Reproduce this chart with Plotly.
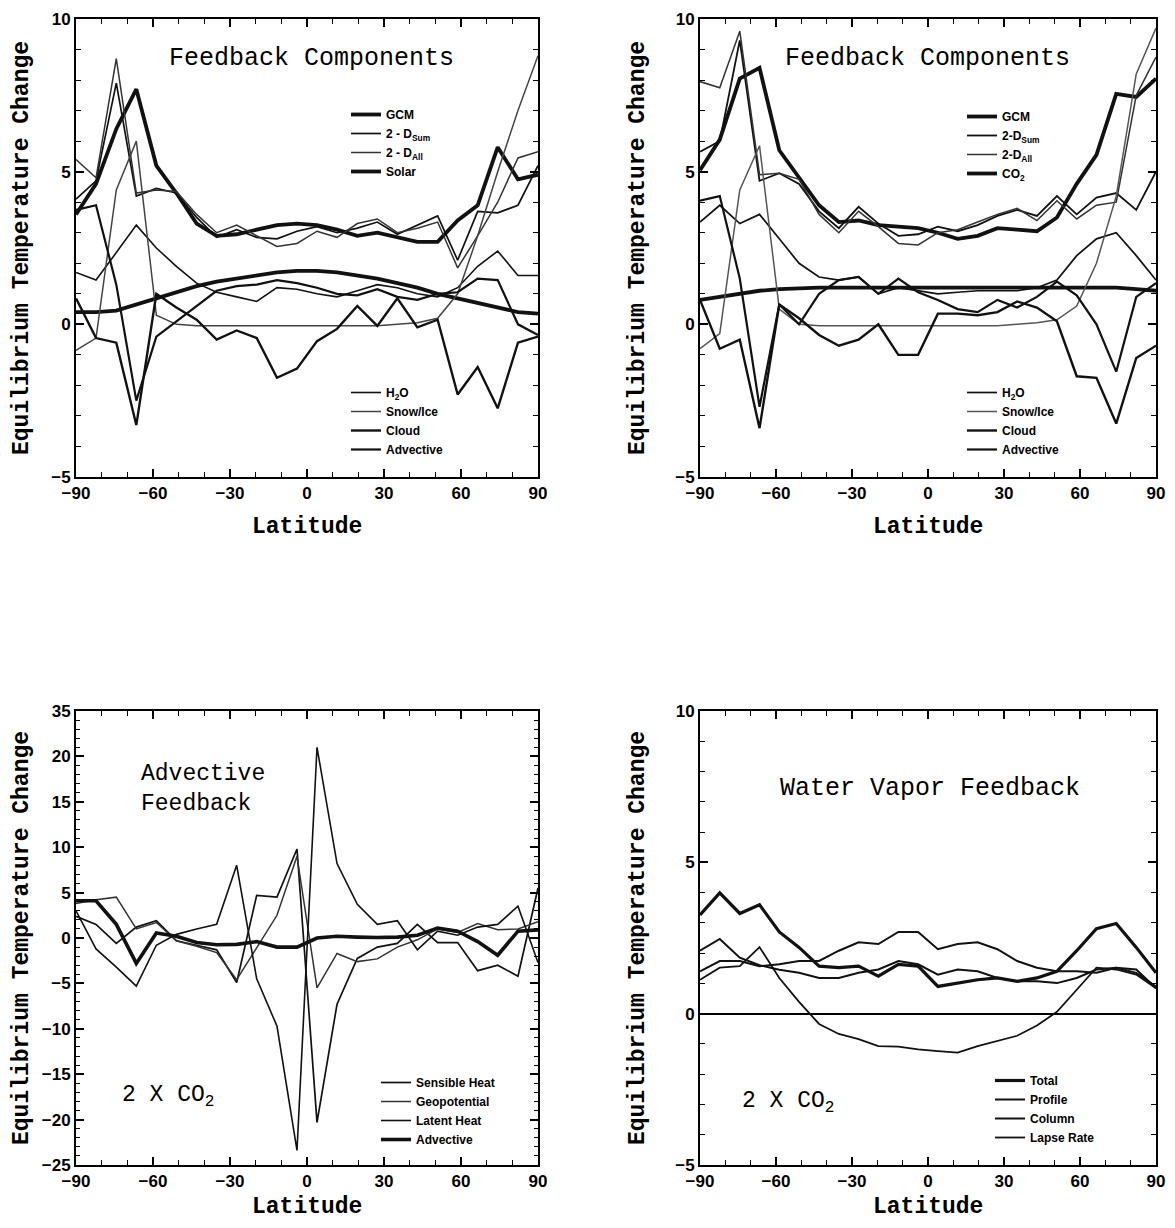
import plotly.graph_objects as go

PAGE_W, PAGE_H = 1175, 1228
OFF = 8  # page body margin of the browser
W, H = PAGE_W - 2 * OFF, PAGE_H - 2 * OFF

# ---------------- data ----------------
lat = [-90, -82.2, -74.3, -66.5, -58.7, -50.9, -43.0, -35.2, -27.4, -19.6, -11.7, -3.9,
       3.9, 11.7, 19.6, 27.4, 35.2, 43.0, 50.9, 58.7, 66.5, 74.3, 82.2, 90]

# Panel A: Feedback components, solar forcing
a_gcm = [3.6, 4.6, 6.4, 7.7, 5.2, 4.3, 3.3, 2.9, 2.95, 3.1, 3.25, 3.3, 3.25, 3.1, 2.9, 3.0, 2.85, 2.7, 2.7, 3.4, 3.9, 5.8, 4.75, 4.9]
a_sum = [4.1, 4.7, 7.9, 4.2, 4.45, 4.3, 3.5, 2.85, 3.1, 2.85, 2.8, 3.05, 3.2, 3.0, 3.15, 3.35, 2.95, 3.25, 3.55, 2.1, 3.7, 3.65, 3.9, 5.2]
a_all = [5.4, 4.8, 8.7, 4.3, 4.4, 4.35, 3.6, 3.0, 3.25, 2.9, 2.55, 2.65, 3.05, 2.85, 3.3, 3.45, 3.0, 3.15, 3.35, 1.85, 2.9, 4.0, 5.45, 5.65]
a_solar = [0.4, 0.4, 0.45, 0.65, 0.85, 1.05, 1.25, 1.4, 1.5, 1.6, 1.7, 1.75, 1.75, 1.7, 1.6, 1.5, 1.35, 1.2, 1.0, 0.85, 0.7, 0.55, 0.4, 0.35]
a_h2o = [1.7, 1.45, 2.35, 3.25, 2.5, 1.9, 1.35, 1.05, 0.9, 0.75, 1.2, 1.15, 1.0, 0.9, 1.1, 1.3, 1.2, 1.0, 0.9, 1.2, 1.9, 2.4, 1.6, 1.6]
a_snow = [-0.85, -0.45, 4.4, 6.0, 0.3, 0.0, -0.05, -0.05, -0.05, -0.05, -0.05, -0.05, -0.05, -0.05, -0.05, -0.05, 0.0, 0.05, 0.2, 1.0, 2.9, 5.0, 7.0, 8.8]
a_cloud = [0.85, -0.45, -0.6, -3.3, 1.0, 0.55, 0.15, -0.5, -0.2, -0.45, -1.75, -1.45, -0.55, -0.15, 0.6, -0.05, 0.85, -0.1, 0.15, -2.3, -1.4, -2.75, -0.6, -0.4]
a_adv = [3.75, 3.9, 1.3, -2.5, -0.4, 0.1, 0.6, 1.1, 1.25, 1.3, 1.45, 1.35, 1.2, 1.0, 0.95, 1.15, 0.9, 0.8, 1.0, 1.05, 1.5, 1.45, 0.0, -0.35]

# Panel B: Feedback components, CO2 forcing
b_gcm = [5.05, 6.05, 8.05, 8.4, 5.7, 4.8, 3.9, 3.35, 3.4, 3.25, 3.2, 3.15, 3.0, 2.8, 2.9, 3.15, 3.1, 3.05, 3.5, 4.6, 5.55, 7.55, 7.45, 8.05]
b_sum = [5.65, 6.0, 9.3, 4.7, 4.95, 4.6, 3.7, 3.15, 3.85, 3.3, 2.9, 2.95, 3.2, 3.05, 3.25, 3.55, 3.75, 3.55, 4.2, 3.6, 4.15, 4.3, 3.75, 5.0]
b_all = [7.95, 7.75, 9.6, 4.9, 4.95, 4.75, 3.6, 3.0, 3.7, 3.2, 2.65, 2.6, 3.0, 3.1, 3.35, 3.6, 3.8, 3.4, 4.05, 3.45, 3.9, 4.0, 7.5, 8.75]
b_co2 = [0.8, 0.9, 1.0, 1.1, 1.15, 1.18, 1.2, 1.2, 1.2, 1.2, 1.2, 1.2, 1.2, 1.2, 1.2, 1.2, 1.2, 1.2, 1.2, 1.2, 1.2, 1.2, 1.15, 1.1]
b_h2o = [3.35, 3.9, 3.3, 3.6, 2.8, 2.0, 1.55, 1.45, 1.55, 1.0, 1.2, 1.1, 1.0, 1.05, 1.1, 1.1, 1.1, 1.2, 1.45, 2.25, 2.8, 3.0, 2.25, 1.45]
b_snow = [-0.8, -0.3, 4.4, 5.85, 0.5, 0.0, -0.05, -0.05, -0.05, -0.05, -0.05, -0.05, -0.05, -0.05, -0.05, -0.05, 0.0, 0.05, 0.15, 0.6, 2.0, 4.2, 8.2, 9.7]
b_cloud = [0.8, -0.8, -0.5, -3.4, 0.65, 0.2, -0.35, -0.7, -0.5, 0.0, -1.0, -1.0, 0.35, 0.35, 0.3, 0.4, 0.75, 0.55, 0.1, -1.7, -1.75, -3.25, -1.1, -0.7]
b_adv = [4.05, 4.2, 1.5, -2.7, 0.65, 0.0, 1.0, 1.45, 1.55, 1.0, 1.5, 1.05, 0.8, 0.5, 0.4, 0.8, 0.55, 0.9, 1.4, 0.95, 0.0, -1.55, 0.9, 1.35]

# Panel C: Advective feedback components (2 x CO2)
c_sens = [2.4, 1.5, -0.6, 1.2, 1.9, -0.3, -0.8, -1.3, -4.9, 4.7, 4.5, 9.8, -20.3, -7.3, -2.25, -1.0, -0.6, 1.5, -0.5, -0.5, -3.6, -3.0, -4.2, 5.5]
c_geo = [3.8, 4.2, 4.5, 1.0, 1.7, -0.3, -0.9, -1.6, -4.6, -1.0, 2.5, 9.0, -5.5, -1.7, -2.6, -2.3, -1.0, -0.2, 1.0, 0.6, 1.6, 0.9, 1.0, 1.8]
c_latent = [3.0, -1.2, -3.2, -5.3, -0.8, 0.4, 1.0, 1.5, 8.0, -4.5, -9.7, -23.4, 21.0, 8.2, 3.7, 1.5, 1.9, -1.3, 0.75, 0.3, 1.2, 1.5, 3.5, -2.7]
c_adv = [4.1, 4.1, 1.5, -2.8, 0.55, 0.2, -0.5, -0.75, -0.7, -0.4, -1.0, -1.0, 0.0, 0.2, 0.1, 0.05, 0.1, 0.3, 1.1, 0.75, -0.4, -1.9, 0.75, 0.9]
c_yticks = [-25, -20, -15, -10, -5, 0, 5, 10, 15, 20, 25]
c_yticktext = ["\u221225", "\u221220", "\u221215", "\u221210", "\u22125", "0", "5", "10", "15", "20", "35"]

# Panel D: Water vapour feedback (2 x CO2)
d_total = [3.26, 3.99, 3.31, 3.6, 2.7, 2.19, 1.57, 1.52, 1.57, 1.24, 1.63, 1.57, 0.9, 1.01, 1.12, 1.18, 1.07, 1.18, 1.4, 2.08, 2.81, 2.98, 2.19, 1.35]
d_profile = [2.08, 2.47, 1.85, 1.6, 1.45, 1.35, 1.18, 1.18, 1.35, 1.46, 1.74, 1.63, 1.29, 1.46, 1.4, 1.18, 1.07, 1.07, 1.01, 1.18, 1.46, 1.52, 1.46, 0.84]
d_column = [1.4, 1.74, 1.74, 1.57, 1.63, 1.74, 1.74, 2.08, 2.36, 2.3, 2.7, 2.7, 2.13, 2.3, 2.36, 2.13, 1.74, 1.52, 1.4, 1.4, 1.35, 1.52, 1.35, 0.9]
d_lapse = [1.12, 1.52, 1.57, 2.2, 1.18, 0.39, -0.34, -0.67, -0.84, -1.07, -1.09, -1.18, -1.24, -1.29, -1.07, -0.9, -0.73, -0.39, 0.06, 0.79, 1.52, 1.46, 1.29, 0.84]

# ---------------- layout helpers ----------------
def fx(p):
    return (p - OFF) / W

def fy(p):
    return 1 - (p - OFF) / H

LEFT = (76, 538)
RIGHT = (700, 1156)
TOP = (19, 477)
BOTTOM = (711, 1165)

panels = {
    1: dict(x=LEFT, y=TOP),
    2: dict(x=RIGHT, y=TOP),
    3: dict(x=LEFT, y=BOTTOM),
    4: dict(x=RIGHT, y=BOTTOM),
}

BLACK = "#111111"
fig = go.Figure()


def add(xs, ys, name, panel, legend, width, color=BLACK, dash="solid"):
    sfx = "" if panel == 1 else str(panel)
    fig.add_trace(go.Scatter(
        x=xs, y=ys, name=name, mode="lines",
        line=dict(color=color, width=width, dash=dash),
        xaxis="x" + sfx, yaxis="y" + sfx, legend=legend,
        hoverinfo="skip"))


# Panel A
add(lat, a_gcm, "GCM", 1, "legend", 3.8)
add(lat, a_sum, "2 - D<sub>Sum</sub>", 1, "legend", 1.7)
add(lat, a_all, "2 - D<sub>All</sub>", 1, "legend", 1.5, color="#333333")
add(lat, a_solar, "Solar", 1, "legend", 3.8)
add(lat, a_h2o, "H<sub>2</sub>O", 1, "legend2", 1.6)
add(lat, a_snow, "Snow/Ice", 1, "legend2", 1.5, color="#444444")
add(lat, a_cloud, "Cloud", 1, "legend2", 2.4)
add(lat, a_adv, "Advective", 1, "legend2", 2.2)

# Panel B
add(lat, b_gcm, "GCM", 2, "legend3", 3.8)
add(lat, b_sum, "2-D<sub>Sum</sub>", 2, "legend3", 1.8)
add(lat, b_all, "2-D<sub>All</sub>", 2, "legend3", 1.5, color="#333333")
add(lat, b_co2, "CO<sub>2</sub>", 2, "legend3", 3.8)
add(lat, b_h2o, "H<sub>2</sub>O", 2, "legend4", 1.7)
add(lat, b_snow, "Snow/Ice", 2, "legend4", 1.5, color="#555555")
add(lat, b_cloud, "Cloud", 2, "legend4", 2.4)
add(lat, b_adv, "Advective", 2, "legend4", 2.2)

# Panel C
add(lat, c_sens, "Sensible Heat", 3, "legend5", 1.7)
add(lat, c_geo, "Geopotential", 3, "legend5", 1.5, color="#333333")
add(lat, c_latent, "Latent Heat", 3, "legend5", 1.6)
add(lat, c_adv, "Advective", 3, "legend5", 3.6)

# Panel D
add(lat, d_total, "Total", 4, "legend6", 3.2)
add(lat, d_profile, "Profile", 4, "legend6", 2.0)
add(lat, d_column, "Column", 4, "legend6", 2.0)
add(lat, d_lapse, "Lapse Rate", 4, "legend6", 1.8)

tickfont = dict(family="Liberation Sans", size=17, color="black", weight="bold")
axis_common = dict(showline=True, linecolor="black", linewidth=2, mirror="allticks",
                   ticks="inside", ticklen=8, tickwidth=1.6, tickcolor="black",
                   showgrid=False, zeroline=False, tickfont=tickfont,
                   ticklabeloverflow="allow",
                   automargin=False, fixedrange=True)

xticks = [-90, -60, -30, 0, 30, 60, 90]
layout_axes = {}
for k, p in panels.items():
    sfx = "" if k == 1 else str(k)
    xa = dict(axis_common, domain=[fx(p["x"][0]), fx(p["x"][1])], range=[-90, 90],
              tickmode="array", tickvals=xticks,
              minor=dict(ticks="inside", dtick=10, ticklen=5, tickwidth=1.3, tickcolor="black"),
              anchor="y" + sfx)
    if k == 3:
        ya = dict(axis_common, domain=[fy(p["y"][1]), fy(p["y"][0])], range=[-25, 25],
                  tickmode="array", tickvals=c_yticks, ticktext=c_yticktext,
                  minor=dict(ticks="inside", dtick=1, ticklen=4, tickwidth=1.2, tickcolor="black"),
                  anchor="x" + sfx)
    else:
        ya = dict(axis_common, domain=[fy(p["y"][1]), fy(p["y"][0])], range=[-5, 10],
                  tickmode="array", tickvals=[-5, 0, 5, 10],
                  minor=dict(ticks="inside", dtick=1, ticklen=5, tickwidth=1.2, tickcolor="black"),
                  anchor="x" + sfx)
    if k == 4:
        ya.update(zeroline=True, zerolinecolor="black", zerolinewidth=1.6)
    layout_axes["xaxis" + sfx] = xa
    layout_axes["yaxis" + sfx] = ya

legend_font = dict(family="Liberation Sans", size=12, color="black", weight="bold")


def legend_at(xp, yp):
    return dict(x=fx(xp), y=fy(yp), xref="paper", yref="paper", xanchor="left", yanchor="top",
                bgcolor="rgba(0,0,0,0)", font=legend_font, itemwidth=30, traceorder="normal",
                tracegroupgap=0, borderwidth=0)


legends = dict(
    legend=legend_at(346, 100),
    legend2=legend_at(346, 378),
    legend3=legend_at(962, 102),
    legend4=legend_at(962, 378),
    legend5=legend_at(376, 1068),
    legend6=legend_at(990, 1066),
)

title_font = dict(family="Liberation Mono", size=25, color="black")
axtitle_font = dict(family="Liberation Mono", size=23, color="black", weight="bold")

annotations = []


def ann(text, xp, yp, font, xanchor="center", angle=0, align="center"):
    annotations.append(dict(text=text, x=fx(xp), y=fy(yp), xref="paper", yref="paper",
                            showarrow=False, xanchor=xanchor, yanchor="middle",
                            textangle=angle, font=font, align=align))


ann("Feedback Components", 311, 58, title_font)
ann("Feedback Components", 927, 58, title_font)
ann("Advective<br>Feedback", 139, 789, dict(title_font, size=23), xanchor="left", align="left")
ann("2 X CO<sub>2</sub>", 120, 1096, dict(title_font, size=23), xanchor="left")
ann("Water Vapor Feedback", 930, 788, title_font)
ann("2 X CO<sub>2</sub>", 740, 1102, dict(title_font, size=23), xanchor="left")

for (x0, x1), (y0, y1), xt, dy in [(LEFT, TOP, 22, 50), (RIGHT, TOP, 638, 50),
                                   (LEFT, BOTTOM, 22, 42), (RIGHT, BOTTOM, 638, 42)]:
    ann("Equilibrium Temperature Change", xt, (y0 + y1) / 2, axtitle_font, angle=-90)
    ann("Latitude", (x0 + x1) / 2, y1 + dy, axtitle_font)

fig.update_layout(
    width=W, height=H,
    margin=dict(l=0, r=0, t=0, b=0),
    paper_bgcolor="white", plot_bgcolor="white",
    showlegend=True,
    annotations=annotations,
    **layout_axes,
    **legends,
)

fig.write_html("out.html")
